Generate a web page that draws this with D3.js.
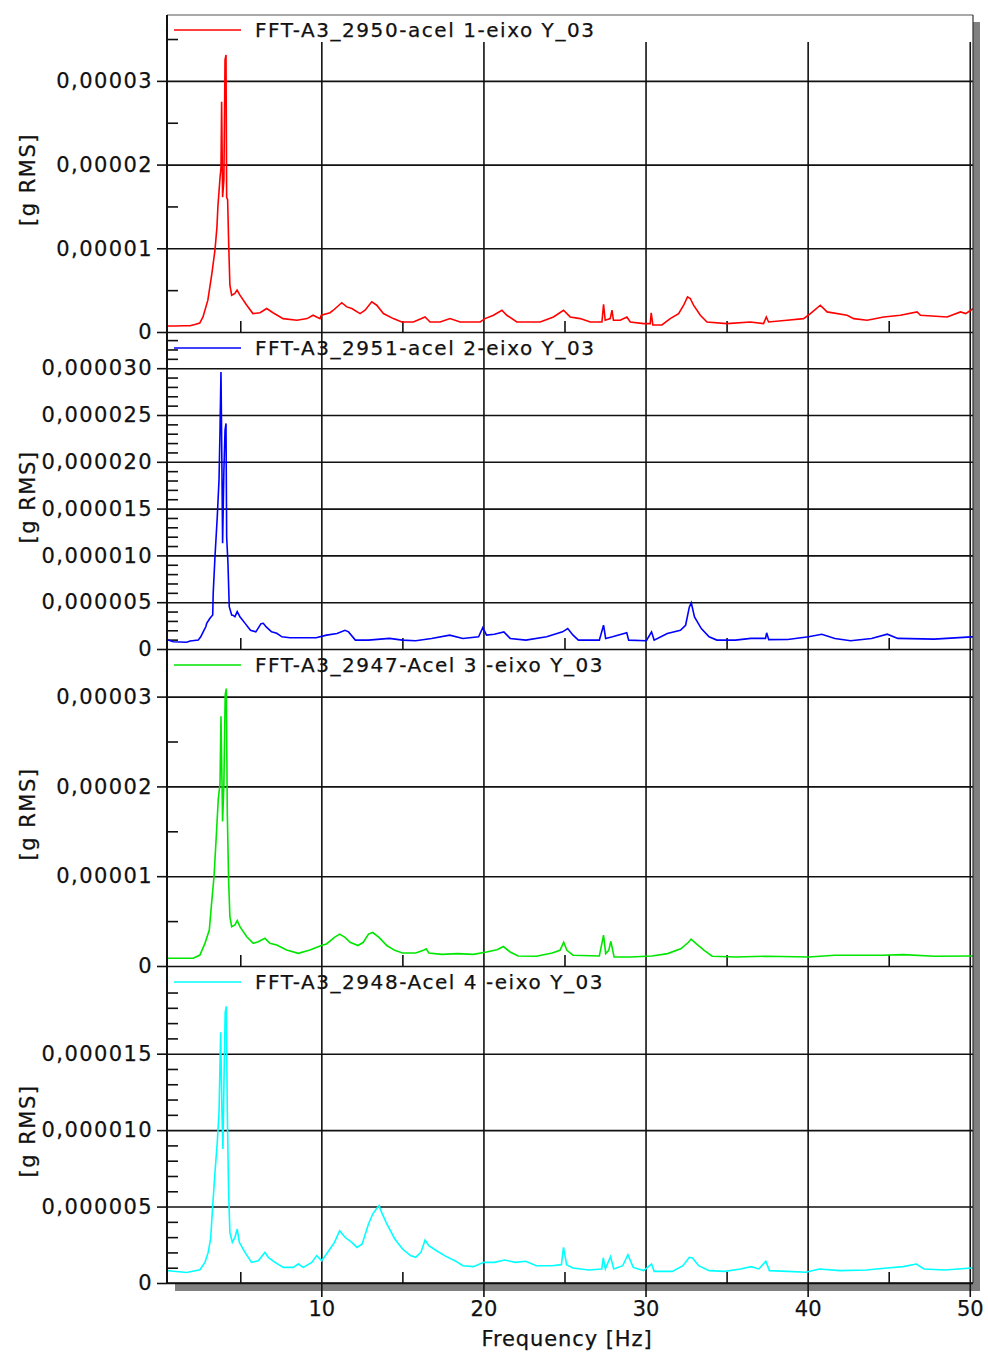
<!DOCTYPE html>
<html><head><meta charset="utf-8">
<script src="https://cdn.jsdelivr.net/npm/d3@7"></script>
<style>body{margin:0;background:#fff} svg{display:block}</style>
</head><body>
<svg id="chart" width="988" height="1353"></svg>
<script>
// ---------- DATA (values in units of 1e-6 g RMS) ----------
const freq1 = [0.48,1.0,1.5,1.9,2.2,2.5,2.7,3.0,3.25,3.44,3.56,3.62,3.75,3.81,3.85,3.91,3.99,4.06,4.12,4.16,4.22,4.29,4.36,4.47,4.67,4.80,4.98,5.40,5.78,6.22,6.63,7.02,7.64,8.5,9.12,9.49,9.92,10.0,10.54,10.74,11.26,11.57,11.88,12.39,12.70,13.11,13.42,13.83,14.44,14.96,15.68,16.40,16.71,17.33,17.94,18.56,19.80,20.10,20.62,21.14,21.44,22.06,23.50,24.32,24.94,25.35,25.97,26.59,27.31,27.41,27.51,27.82,27.93,28.02,28.44,28.85,29.06,29.88,30.29,30.35,30.45,31.01,31.52,32.04,32.35,32.59,32.76,32.96,33.38,33.79,35.02,36.46,37.28,37.45,37.59,38.73,39.75,40.17,40.78,41.20,42.43,42.84,43.67,44.69,45.72,46.75,46.96,48.6,49.43,49.75,50.06,50.2];
const val1  = [0.72,0.72,0.74,0.75,0.9,1.07,1.8,3.8,7.0,9.8,12.5,15.0,18.4,19.6,27.5,16.1,18.2,32.5,33.1,16.1,15.8,10.2,5.6,4.4,4.6,5.0,4.4,3.2,2.2,2.3,2.8,2.3,1.6,1.4,1.6,2.0,1.6,2.0,2.3,2.6,3.5,3.0,2.8,2.2,2.6,3.6,3.2,2.2,1.6,1.2,1.2,1.8,1.2,1.2,1.6,1.2,1.2,1.6,2.0,2.6,2.0,1.2,1.2,1.8,2.6,1.8,1.6,1.2,1.2,3.3,1.4,1.6,2.6,1.4,1.4,1.8,1.2,1.0,1.0,2.3,0.85,0.84,1.6,2.2,3.2,4.2,4.0,3.2,2.0,1.2,1.0,1.2,1.0,1.8,1.2,1.4,1.6,2.2,3.2,2.4,2.0,1.6,1.4,1.8,2.0,2.4,2.0,1.8,2.4,2.2,2.6,2.8];

const freq2 = [0.48,0.56,0.86,1.69,1.91,2.41,2.56,2.72,2.88,2.93,3.13,3.30,3.33,3.44,3.58,3.69,3.75,3.81,3.87,3.91,3.99,4.06,4.12,4.16,4.24,4.32,4.47,4.57,4.67,4.81,4.98,5.31,5.63,5.96,6.28,6.42,6.6,6.93,7.25,7.57,8.06,9.68,10.32,10.97,11.46,11.68,12.1,12.9,14.2,15.0,15.82,16.8,17.92,18.73,19.7,19.96,20.19,20.67,21.26,21.65,22.62,23.9,24.88,25.2,25.53,25.86,27.15,27.41,27.54,27.96,28.84,28.96,30.05,30.37,30.53,31.34,32.15,32.47,32.7,32.82,33.02,33.44,33.92,34.4,35.54,36.5,37.4,37.47,37.6,38.77,40.06,40.87,41.68,42.65,43.94,44.91,45.56,47.8,50.1,50.2];
const val2  = [0.96,0.96,0.78,0.72,0.85,0.96,1.3,1.85,2.4,2.74,3.28,3.63,5.95,9.86,14.1,18.1,23.4,29.6,19.1,11.3,19.1,23.4,24.1,12.0,9.16,4.52,3.63,3.59,3.45,3.99,3.45,2.71,2.0,1.83,2.71,2.75,2.36,1.83,1.68,1.30,1.20,1.20,1.48,1.65,2.0,1.83,0.95,0.95,1.13,0.95,0.88,1.13,1.48,1.13,1.30,2.29,1.48,1.58,1.83,1.13,0.95,1.30,1.83,2.18,1.48,0.95,0.95,2.54,1.13,1.30,1.73,0.95,0.88,1.83,0.95,1.65,2.0,2.54,4.47,4.93,3.42,2.18,1.30,0.95,0.95,1.13,1.13,1.73,1.0,1.02,1.30,1.58,1.13,0.88,1.13,1.58,1.13,1.06,1.30,1.3];

const freq3 = [0.48,0.56,2.1,2.51,2.82,3.09,3.23,3.38,3.54,3.64,3.75,3.81,3.91,3.99,4.07,4.14,4.20,4.28,4.36,4.47,4.67,4.81,4.98,5.40,5.80,6.11,6.52,6.83,7.25,7.86,8.58,9.30,10.0,10.32,10.81,11.13,11.46,11.78,12.26,12.59,12.91,13.17,13.56,14.04,14.53,15.01,15.82,16.30,16.47,16.63,17.44,18.41,19.38,20.19,20.84,21.23,21.65,22.14,23.27,24.24,24.72,24.95,25.15,25.53,27.15,27.41,27.54,27.73,27.86,28.06,29.09,30.39,31.36,32.17,32.65,32.81,33.14,33.62,34.11,35.56,37.5,40.06,41.68,44.59,45.89,47.83,50.1,50.2];
const val3  = [0.86,0.86,0.86,1.22,2.52,4.0,6.98,9.94,15.1,18.5,20.3,27.8,16.1,20.3,30.2,30.9,17.0,9.58,5.49,4.38,4.57,5.05,4.38,3.26,2.52,2.7,3.08,2.52,2.34,1.78,1.41,1.78,2.28,2.46,3.19,3.55,3.19,2.64,2.28,2.64,3.55,3.73,3.19,2.28,1.74,1.45,1.45,1.74,1.92,1.45,1.30,1.38,1.30,1.56,1.81,2.17,1.56,1.12,1.09,1.45,1.74,2.64,1.74,1.2,1.12,3.44,1.38,1.74,2.75,1.01,1.01,1.12,1.38,1.92,2.64,3.0,2.46,1.74,1.09,1.01,1.09,1.01,1.2,1.2,1.27,1.09,1.12,1.12];

const freq4 = [0.48,0.56,1.69,2.51,2.82,3.02,3.17,3.30,3.44,3.58,3.69,3.79,3.87,3.93,4.01,4.07,4.14,4.20,4.28,4.36,4.51,4.67,4.81,4.94,5.29,5.70,6.11,6.52,6.73,7.14,7.66,8.27,8.58,8.89,9.41,9.71,10.02,10.32,10.81,11.13,11.46,11.88,12.2,12.52,12.91,13.17,13.39,13.56,13.72,14.04,14.53,15.01,15.5,15.82,16.14,16.40,16.63,17.11,17.6,18.24,18.73,19.38,20.02,20.67,21.32,21.96,22.61,23.26,24.23,24.81,24.94,25.13,25.52,26.49,27.3,27.39,27.52,27.84,28.04,28.59,28.91,29.24,29.88,30.37,30.53,31.66,32.31,32.7,32.89,33.28,33.92,34.89,35.86,36.51,36.99,37.42,37.64,38.77,39.9,40.71,42.0,43.62,44.91,45.89,46.7,47.18,48.47,50.1,50.2];
const val4  = [0.80,0.80,0.69,0.87,1.35,2.0,2.88,5.06,7.23,9.2,11.2,16.4,11.2,8.76,14.2,17.7,18.1,11.2,5.93,3.31,2.66,2.98,3.53,2.66,2.0,1.35,1.46,2.0,1.67,1.35,1.02,1.02,1.24,1.02,1.35,1.79,1.46,1.9,2.66,3.42,2.99,2.66,2.33,2.55,3.86,4.51,4.84,5.06,4.62,3.86,2.88,2.22,1.79,1.68,2.0,2.81,2.44,2.11,1.79,1.46,1.13,1.07,1.35,1.35,1.5,1.35,1.42,1.13,1.13,1.2,2.33,1.2,0.98,0.85,0.92,1.64,0.92,1.72,0.92,1.13,1.85,1.02,0.81,1.24,0.76,0.76,1.13,1.68,1.64,1.13,0.81,0.76,0.92,1.07,0.92,1.42,0.81,0.76,0.70,0.92,0.81,0.85,0.98,1.07,1.24,0.92,0.85,0.98,0.98];

const seriesNames  = ["FFT-A3_2950-acel 1-eixo Y_03","FFT-A3_2951-acel 2-eixo Y_03","FFT-A3_2947-Acel 3 -eixo Y_03","FFT-A3_2948-Acel 4 -eixo Y_03"];
const seriesColors = ["#ff0000","#0000ff","#00e600","#00ffff"];
const freqs = [freq1, freq2, freq3, freq4];
const vals  = [val1, val2, val3, val4];

const xDomain = [0.48, 50.2];
const xMajor = [10,20,30,40,50];
const xMajorLabels = ["10","20","30","40","50"];
const xMinor = [5,15,25,35,45];
const xTitle = "Frequency [Hz]";
const yTitle = "[g RMS]";

const yMax = [37.87, 33.76, 35.19, 20.67];
const yMajor = [[0,10,20,30],[0,5,10,15,20,25,30],[0,10,20,30],[0,5,10,15]];
const yMajorLabels = [
  ["0","0,00001","0,00002","0,00003"],
  ["0","0,000005","0,000010","0,000015","0,000020","0,000025","0,000030"],
  ["0","0,00001","0,00002","0,00003"],
  ["0","0,000005","0,000010","0,000015"]
];
const yMinor = [
  [5,15,25,35],
  [1,2,3,4,6,7,8,9,11,12,13,14,16,17,18,19,21,22,23,24,26,27,28,29,31,32,33],
  [5,15,25],
  [1,2,3,4,6,7,8,9,11,12,13,14,16,17,18,19]
];

// ---------- LAYOUT ----------
const L = 167, R = 973;
const tops = [15, 333, 650, 967];
const bots = [332, 649, 966, 1283];
const font = "DejaVu Sans";
const ink = "#111";

const svg = d3.select("#chart");
const x = d3.scaleLinear().domain(xDomain).range([L, R]);

// shadow
svg.append("rect").attr("x", R).attr("y", tops[0] + 7).attr("width", 7).attr("height", bots[3] - tops[0] + 1).attr("fill", "#808080");
svg.append("rect").attr("x", L + 8).attr("y", bots[3]).attr("width", R - L - 1).attr("height", 8).attr("fill", "#808080");
svg.append("rect").attr("x", L).attr("y", tops[0]).attr("width", R - L).attr("height", bots[3] - tops[0]).attr("fill", "#fff");

const defs = svg.append("defs");

function styleText(sel, size, ls) {
  sel.attr("font-family", font).attr("font-size", size).attr("letter-spacing", ls)
    .attr("fill", ink).attr("stroke", ink).attr("stroke-width", 0.25);
}

for (let p = 0; p < 4; p++) {
  const top = tops[p], bot = bots[p];
  const y = d3.scaleLinear().domain([0, yMax[p]]).range([bot, top]);
  const g = svg.append("g");
  const gridTop = p === 0 ? 42 : top;

  // horizontal grid
  const hg = g.append("g").attr("transform", `translate(${L},0)`)
    .call(d3.axisLeft(y).tickValues(yMajor[p]).tickSize(-(R - L)).tickFormat(""));
  hg.select(".domain").remove();
  hg.selectAll("line").attr("stroke", "#111").attr("stroke-width", 1.6);

  // vertical grid
  const vg = g.append("g").attr("transform", `translate(0,${bot})`)
    .call(d3.axisBottom(x).tickValues(xMajor).tickSize(-(bot - gridTop)).tickFormat(""));
  vg.select(".domain").remove();
  vg.selectAll("line").attr("stroke", "#111").attr("stroke-width", 1.6);

  // x minor ticks (inward from bottom)
  const xm = g.append("g").attr("transform", `translate(0,${bot})`)
    .call(d3.axisBottom(x).tickValues(xMinor).tickSize(-11).tickFormat(""));
  xm.select(".domain").remove();
  xm.selectAll("line").attr("stroke", "#111").attr("stroke-width", 1.6);

  // y minor ticks (inward)
  const ym = g.append("g").attr("transform", `translate(${L},0)`)
    .call(d3.axisRight(y).tickValues(yMinor[p]).tickSize(11).tickFormat(""));
  ym.select(".domain").remove();
  ym.selectAll("line").attr("stroke", "#111").attr("stroke-width", 1.6);

  // y major ticks with labels (outward)
  const ya = g.append("g").attr("transform", `translate(${L},0)`)
    .call(d3.axisLeft(y).tickValues(yMajor[p]).tickSize(10).tickPadding(4)
      .tickFormat((d, i) => yMajorLabels[p][i]));
  ya.select(".domain").remove();
  ya.selectAll("line").attr("stroke", "#111").attr("stroke-width", 1.6);
  styleText(ya.selectAll("text"), 21, 1.4);

  // y title
  styleText(g.append("text").attr("transform", `translate(35,${(top + bot) / 2 + 6}) rotate(-90)`)
    .attr("text-anchor", "middle").text(yTitle), 21, 1.5);

  // series line
  const cid = "clip" + p;
  defs.append("clipPath").attr("id", cid).append("rect")
    .attr("x", L).attr("y", top).attr("width", R - L).attr("height", bot - top);
  const pts = freqs[p].map((f, i) => [f, vals[p][i]]);
  g.append("path").datum(pts)
    .attr("clip-path", `url(#${cid})`)
    .attr("fill", "none").attr("stroke", seriesColors[p]).attr("stroke-width", 1.6)
    .attr("stroke-linejoin", "miter")
    .attr("d", d3.line().x(d => x(d[0])).y(d => y(d[1])));

  // legend
  g.append("line").attr("x1", 174).attr("x2", 241).attr("y1", top + 15).attr("y2", top + 15)
    .attr("stroke", seriesColors[p]).attr("stroke-width", 1.5);
  styleText(g.append("text").attr("x", 255).attr("y", top + 22).text(seriesNames[p]), 20, 1.55);
}

// bottom x axis with labels
const xa = svg.append("g").attr("transform", `translate(0,${bots[3]})`)
  .call(d3.axisBottom(x).tickValues(xMajor).tickSize(14).tickPadding(4)
    .tickFormat((d, i) => xMajorLabels[i]));
xa.select(".domain").remove();
xa.selectAll("line").attr("stroke", "#111").attr("stroke-width", 1.6);
styleText(xa.selectAll("text"), 21, 0);

styleText(svg.append("text").attr("x", 567).attr("y", 1346).attr("text-anchor", "middle").text(xTitle), 21, 0.9);

// frame
svg.append("line").attr("x1", L).attr("x2", R).attr("y1", tops[0]).attr("y2", tops[0]).attr("stroke", "#555").attr("stroke-width", 1.2);
svg.append("line").attr("x1", R).attr("x2", R).attr("y1", tops[0]).attr("y2", bots[3]).attr("stroke", "#333").attr("stroke-width", 1.2);
svg.append("line").attr("x1", L).attr("x2", R).attr("y1", bots[3]).attr("y2", bots[3]).attr("stroke", "#111").attr("stroke-width", 1.6);
svg.append("line").attr("x1", L).attr("x2", L).attr("y1", tops[0]).attr("y2", bots[3]).attr("stroke", "#111").attr("stroke-width", 2);
</script>
</body></html>
